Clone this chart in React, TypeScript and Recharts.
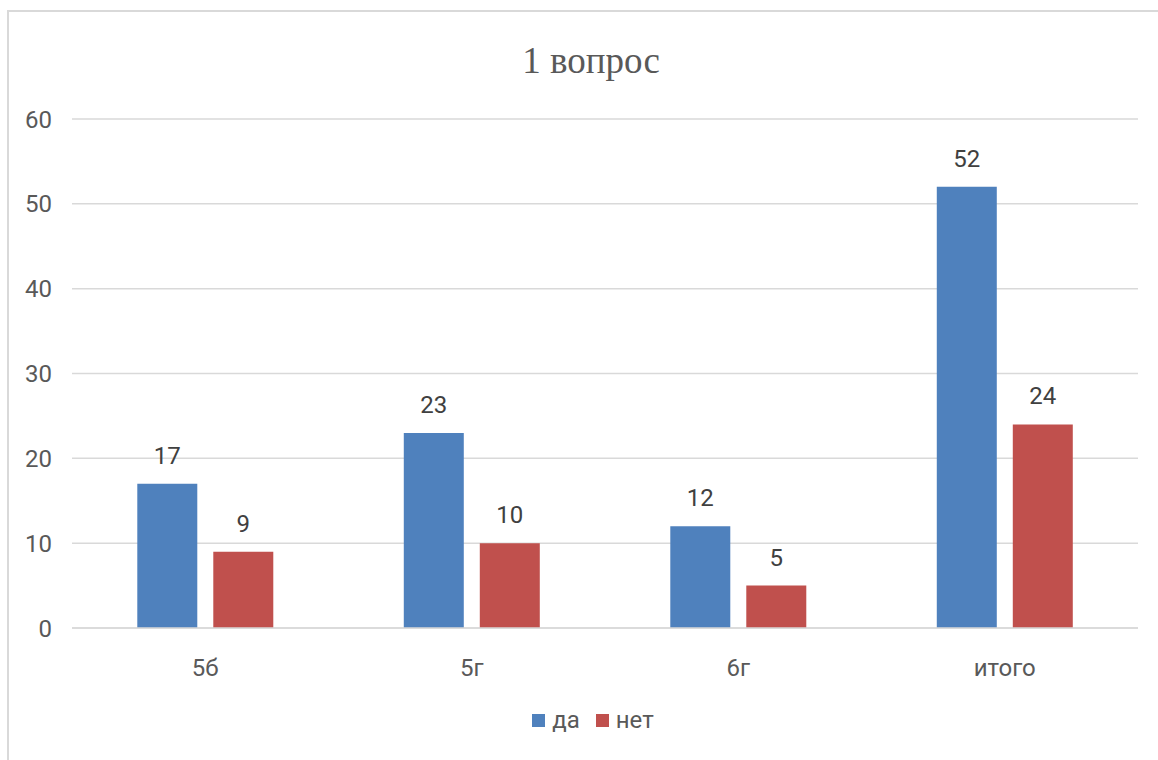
import { BarChart, Bar, XAxis, YAxis, CartesianGrid, Legend, LabelList } from 'recharts';

const CLASSES = ['5б', '5г', '6г', 'итого'];
const YES = [17, 23, 12, 52];
const NO = [9, 10, 5, 24];
const Y_TICKS = [0, 10, 20, 30, 40, 50, 60];

const BLUE = '#4F81BD';
const RED = '#C0504D';
const FONT = "'Liberation Sans Narrow', Roboto, 'Noto Sans', sans-serif";

const data = CLASSES.map((name, i) => ({ name, yes: YES[i], no: NO[i] }));

const LegendContent = () => (
  <div style={{ display: 'flex', justifyContent: 'center', alignItems: 'center', fontFamily: FONT, fontSize: 24, color: '#595959', height: 40, paddingLeft: 48 }}>
    <span style={{ width: 13, height: 13, background: BLUE, display: 'inline-block', marginRight: 7 }} />
    <span style={{ marginRight: 16 }}>да</span>
    <span style={{ width: 13, height: 13, background: RED, display: 'inline-block', marginRight: 7 }} />
    <span>нет</span>
  </div>
);

export default function App() {
  return (
    <div style={{ position: 'fixed', left: 0, top: 0, width: 1158, height: 760, overflow: 'hidden', background: '#fff' }}>
      <div style={{ position: 'absolute', left: 7, top: 10, width: 1300, height: 900, border: '2px solid #d9d9d9' }} />
      <div style={{ position: 'absolute', left: 12, top: 39, width: 1158, textAlign: 'center', fontFamily: "'Liberation Serif', serif", fontSize: 37, color: '#595959' }}>
        1 вопрос
      </div>
      <div style={{ position: 'absolute', left: 0, top: 0 }}>
        <BarChart
          width={1158}
          height={760}
          data={data}
          margin={{ top: 119, right: 20, left: 0, bottom: 20 }}
          barCategoryGap="24.5%"
          barGap={16}
        >
          <CartesianGrid vertical={false} stroke="#d9d9d9" strokeWidth={1.5} />
          <XAxis
            dataKey="name"
            height={72}
            tickSize={0}
            tickMargin={31}
            axisLine={{ stroke: '#d9d9d9', strokeWidth: 1.5 }}
            tick={{ fill: '#595959', fontSize: 24, fontFamily: FONT }}
          />
          <YAxis
            width={72}
            domain={[0, 60]}
            ticks={Y_TICKS}
            tickSize={0}
            tickMargin={20}
            axisLine={false}
            tick={{ fill: '#595959', fontSize: 24, fontFamily: FONT }}
          />
          <Legend verticalAlign="bottom" height={40} content={<LegendContent />} />
          <Bar dataKey="yes" name="да" fill={BLUE} isAnimationActive={false}>
            <LabelList dataKey="yes" position="top" offset={20} fill="#404040" fontSize={24} fontFamily={FONT} />
          </Bar>
          <Bar dataKey="no" name="нет" fill={RED} isAnimationActive={false}>
            <LabelList dataKey="no" position="top" offset={20} fill="#404040" fontSize={24} fontFamily={FONT} />
          </Bar>
        </BarChart>
      </div>
    </div>
  );
}
